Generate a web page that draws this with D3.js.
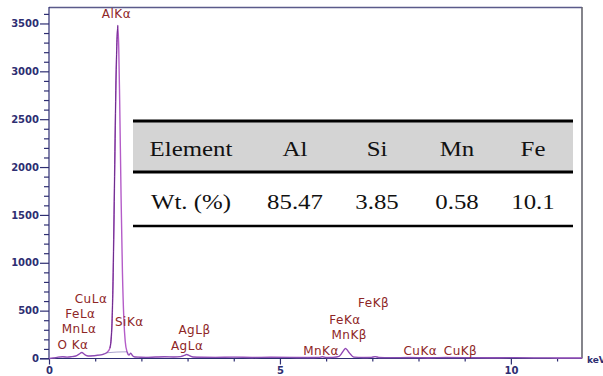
<!DOCTYPE html>
<html>
<head>
<meta charset="utf-8">
<script src="https://cdn.jsdelivr.net/npm/d3@7"></script>
<style>
  body { margin: 0; background: #fff; }
  svg { display: block; }
</style>
</head>
<body>
<svg id="chart" width="603" height="376"></svg>
<script>
// spectrum (keV, counts)
const energies = [0, 0.1, 0.2, 0.3, 0.4, 0.5, 0.58, 0.65, 0.71, 0.78, 0.85, 0.95, 1.05, 1.15, 1.25, 1.32, 1.36, 1.39, 1.42, 1.45, 1.47, 1.49, 1.51, 1.53, 1.56, 1.59, 1.62, 1.65, 1.69, 1.73, 1.77, 1.81, 1.86, 1.95, 2.1, 2.3, 2.5, 2.7, 2.85, 2.93, 2.98, 3.04, 3.12, 3.3, 3.6, 4.0, 4.4, 4.8, 5.2, 5.6, 5.85, 5.92, 6.0, 6.15, 6.28, 6.36, 6.42, 6.5, 6.6, 6.8, 6.98, 7.06, 7.14, 7.4, 7.8, 8.2, 8.6, 9.0, 9.5, 10.0, 10.5, 11.0, 11.54];
const counts   = [0, 6, 14, 18, 14, 20, 26, 45, 62, 38, 26, 28, 34, 40, 60, 110, 320, 900, 1900, 2900, 3300, 3480, 3250, 2700, 1700, 900, 420, 180, 70, 35, 55, 28, 16, 14, 12, 15, 18, 16, 20, 32, 42, 30, 16, 13, 12, 14, 11, 13, 12, 10, 12, 18, 10, 12, 22, 70, 105, 60, 14, 10, 12, 20, 11, 9, 10, 8, 10, 9, 8, 9, 7, 6, 5];

const yTicks = [0, 500, 1000, 1500, 2000, 2500, 3000, 3500];
const xTicks = [0, 5, 10];

// peak labels: name, keV where the label is centred, count level of its baseline
const peakNames  = ["AlKα", "CuLα", "FeLα", "MnLα", "O Kα", "SiKα", "AgLβ", "AgLα", "FeKβ", "FeKα", "MnKβ", "MnKα", "CuKα", "CuKβ"];
const peakKeV    = [1.46, 0.91, 0.68, 0.65, 0.52, 1.74, 3.15, 2.99, 7.03, 6.41, 6.50, 5.89, 8.04, 8.91];
const peakLevel  = [3558, 580, 423, 266, 99, 340, 256, 89, 538, 360, 204, 37, 37, 37];

const tableHead = ["Element", "Al", "Si", "Mn", "Fe"];
const tableRow  = ["Wt. (%)", "85.47", "3.85", "0.58", "10.1"];

const svg = d3.select("#chart");
const plotL = 49, plotR = 582, plotT = 7, plotB = 358.5;

const x = d3.scaleLinear().domain([0, 11.54]).range([plotL, plotR]);
const y = d3.scaleLinear().domain([0, 3672]).range([plotB, plotT]);

const axisColor = "#2e2e72";

// frame top and right
svg.append("line").attr("x1", plotL).attr("x2", plotR).attr("y1", plotT + 0.5).attr("y2", plotT + 0.5)
  .attr("stroke", "#5a5a8a").attr("stroke-width", 1.3);
svg.append("line").attr("x1", plotR).attr("x2", plotR).attr("y1", plotT).attr("y2", plotB)
  .attr("stroke", "#66666e").attr("stroke-width", 1.6);

// y axis
const yAxis = svg.append("g").attr("transform", `translate(${plotL},0)`)
  .call(d3.axisLeft(y).tickValues(yTicks).tickSize(9).tickPadding(1).tickFormat(d3.format("d")));
yAxis.append("g").call(d3.axisLeft(y).tickValues(d3.range(0, 3700, 100).filter(v => v % 500)).tickSize(5).tickFormat(""))
  .select(".domain").remove();
yAxis.select(".domain").attr("d", `M0,${plotT}V${plotB}`);

// x axis
const xAxis = svg.append("g").attr("transform", `translate(0,${plotB})`)
  .call(d3.axisBottom(x).tickValues(xTicks).tickSize(6).tickPadding(2).tickFormat(d3.format("d")));
xAxis.append("g").call(d3.axisBottom(x).tickValues(d3.range(1, 12).filter(v => v % 5)).tickSize(3).tickFormat(""))
  .select(".domain").remove();
xAxis.select(".domain").attr("d", `M${plotL - 9},0H${plotR}`);

svg.selectAll(".tick line, .domain").attr("stroke", axisColor).attr("stroke-width", 1.2);
svg.selectAll(".tick text").attr("fill", axisColor)
  .style("font-family", "DejaVu Sans").style("font-size", "10px").style("font-weight", "bold");

svg.append("text").attr("x", plotR + 5).attr("y", plotB + 4)
  .attr("fill", axisColor).style("font-family", "DejaVu Sans").style("font-size", "9px").style("font-weight", "bold")
  .text("keV");

// spectrum
const pts = energies.map((e, i) => [e, counts[i]]);
const line = d3.line().x(d => x(d[0])).y(d => y(d[1])).curve(d3.curveMonotoneX);
svg.append("path").datum(pts).attr("d", line)
  .attr("fill", "none").attr("stroke", "#b45cc8").attr("stroke-width", 1.4);
// darker left flank of the main peak
svg.append("path").datum(pts.filter(d => d[0] >= 1.3 && d[0] <= 1.49)).attr("d", line)
  .attr("fill", "none").attr("stroke", "#6a2c8c").attr("stroke-width", 1);
// baseline noise trace
svg.append("path").datum(pts.filter(d => d[0] < 1.3 || d[0] > 1.68)).attr("d", line)
  .attr("fill", "none").attr("stroke", "#4a3a96").attr("stroke-width", 0.8).attr("opacity", 0.6);

// peak labels
svg.append("g").selectAll("text").data(peakNames).join("text")
  .attr("x", (d, i) => x(peakKeV[i]))
  .attr("y", (d, i) => y(peakLevel[i]))
  .attr("text-anchor", "middle")
  .attr("fill", "#8e2626")
  .style("font-family", "DejaVu Sans").style("font-size", "12px").style("letter-spacing", "0.5px")
  .text(d => d);

// table (its text is a bit wider than plain Times in the picture)
const tx = d3.scaleOrdinal().domain(d3.range(5)).range([191, 295, 377, 457, 533]);
const tbl = svg.append("g");
tbl.append("rect").attr("x", 133).attr("y", 121).attr("width", 440).attr("height", 51).attr("fill", "#d4d4d4");
[121, 172].forEach(v => tbl.append("line").attr("x1", 133).attr("x2", 573).attr("y1", v).attr("y2", v)
  .attr("stroke", "#000").attr("stroke-width", 3));
tbl.append("line").attr("x1", 133).attr("x2", 573).attr("y1", 226).attr("y2", 226)
  .attr("stroke", "#000").attr("stroke-width", 2.5);
tbl.selectAll(".h").data(tableHead).join("text").attr("class", "h")
  .attr("transform", (d, i) => `translate(${tx(i)},155.5) scale(1.13,1)`).attr("text-anchor", "middle")
  .attr("fill", "#111")
  .style("font-family", "Liberation Serif").style("font-size", "22px").text(d => d);
tbl.selectAll(".r").data(tableRow).join("text").attr("class", "r")
  .attr("transform", (d, i) => `translate(${tx(i)},208.5) scale(1.13,1)`).attr("text-anchor", "middle")
  .attr("fill", "#111")
  .style("font-family", "Liberation Serif").style("font-size", "22px").text(d => d);
</script>
</body>
</html>
